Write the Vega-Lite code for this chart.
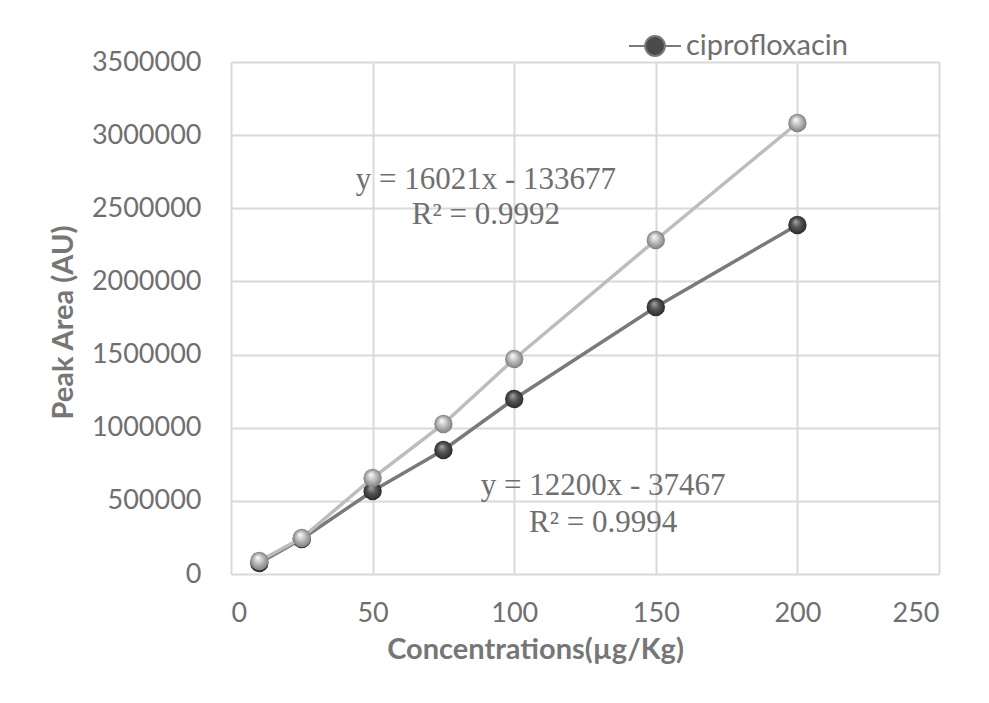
{
  "$schema": "https://vega.github.io/schema/vega-lite/v6.json",
  "width": 708,
  "height": 512,
  "autosize": {"type": "none"},
  "padding": {"left": 231, "top": 62, "right": 50, "bottom": 129},
  "background": "white",
  "config": {
    "view": {"stroke": null},
    "axis": {
      "labelFont": "Lato",
      "labelFontSize": 27,
      "labelColor": "#6f6f6f",
      "titleFont": "Lato",
      "titleFontSize": 29,
      "titleFontWeight": "bold",
      "titleColor": "#767676",
      "gridColor": "#d9d9d9",
      "gridWidth": 2,
      "domain": false,
      "ticks": false
    }
  },
  "datasets": {
    "points": [
      {"conc": 10, "area": 88900, "series": "standard"},
      {"conc": 25, "area": 246100, "series": "standard"},
      {"conc": 50, "area": 656200, "series": "standard"},
      {"conc": 75, "area": 1025400, "series": "standard"},
      {"conc": 100, "area": 1469700, "series": "standard"},
      {"conc": 150, "area": 2283200, "series": "standard"},
      {"conc": 200, "area": 3083000, "series": "standard"},
      {"conc": 10, "area": 75200, "series": "ciprofloxacin"},
      {"conc": 25, "area": 239300, "series": "ciprofloxacin"},
      {"conc": 50, "area": 567400, "series": "ciprofloxacin"},
      {"conc": 75, "area": 847600, "series": "ciprofloxacin"},
      {"conc": 100, "area": 1196300, "series": "ciprofloxacin"},
      {"conc": 150, "area": 1825200, "series": "ciprofloxacin"},
      {"conc": 200, "area": 2385700, "series": "ciprofloxacin"}
    ],
    "notes": [
      {"conc": 90, "area": 2631800, "label": "y = 16021x - 133677"},
      {"conc": 90, "area": 2392600, "label": "R² = 0.9992"},
      {"conc": 131.4, "area": 540000, "label": "y = 12200x - 37467"},
      {"conc": 131.4, "area": 287100, "label": "R² = 0.9994"}
    ]
  },
  "encoding": {
    "x": {
      "field": "conc",
      "type": "quantitative",
      "scale": {"domain": [0, 250], "nice": false},
      "axis": {
        "values": [0, 50, 100, 150, 200, 250],
        "labelPadding": 26,
        "title": "Concentrations(µg/Kg)",
        "titleX": 304,
        "titleY": 84,
        "titleAlign": "center",
        "titleBaseline": "alphabetic"
      }
    },
    "y": {
      "field": "area",
      "type": "quantitative",
      "scale": {"domain": [0, 3500000], "nice": false},
      "axis": {
        "values": [0, 500000, 1000000, 1500000, 2000000, 2500000, 3000000, 3500000],
        "format": "d",
        "labelPadding": 30,
        "title": "Peak Area (AU)",
        "titleX": -168,
        "titleY": 260,
        "titleAngle": -90,
        "titleAlign": "center",
        "titleBaseline": "middle"
      }
    }
  },
  "layer": [
    {
      "data": {"name": "points"},
      "transform": [{"filter": "datum.series === 'ciprofloxacin'"}],
      "mark": {"type": "line", "strokeWidth": 3.5},
      "encoding": {
        "color": {
          "field": "series",
          "type": "nominal",
          "scale": {"domain": ["ciprofloxacin"], "range": ["#7a7a7a"]},
          "legend": {
            "title": null,
            "orient": "none",
            "legendX": 397,
            "legendY": -43,
            "padding": 0,
            "symbolType": "M-1,0L-0.38,0M0.38,0L1,0M-0.38,0A0.38,0.38,0,1,0,0.38,0A0.38,0.38,0,1,0,-0.38,0Z",
            "symbolSize": 2704,
            "symbolStrokeWidth": 2,
            "labelFont": "Lato",
            "labelFontSize": 29,
            "labelLimit": 400,
            "labelColor": "#6f6f6f",
            "labelOffset": 4,
            "encode": {
              "symbols": {
                "update": {
                  "fill": {"value": "#4a4a4a"},
                  "stroke": {"value": "#555555"},
                  "opacity": {"value": 1}
                }
              }
            }
          }
        }
      }
    },
    {
      "data": {"name": "points"},
      "transform": [{"filter": "datum.series === 'ciprofloxacin'"}],
      "mark": {
        "type": "circle",
        "size": 340,
        "opacity": 1,
        "fill": {
          "gradient": "radial",
          "x1": 0.4, "y1": 0.3, "r1": 0,
          "x2": 0.5, "y2": 0.5, "r2": 0.5,
          "stops": [
            {"offset": 0, "color": "#a8a8a8"},
            {"offset": 0.5, "color": "#555555"},
            {"offset": 1, "color": "#2b2b2b"}
          ]
        }
      }
    },
    {
      "data": {"name": "points"},
      "transform": [{"filter": "datum.series === 'standard'"}],
      "mark": {"type": "line", "color": "#bdbdbd", "strokeWidth": 3.5}
    },
    {
      "data": {"name": "points"},
      "transform": [{"filter": "datum.series === 'standard'"}],
      "mark": {
        "type": "circle",
        "size": 340,
        "opacity": 1,
        "fill": {
          "gradient": "radial",
          "x1": 0.4, "y1": 0.3, "r1": 0,
          "x2": 0.5, "y2": 0.5, "r2": 0.5,
          "stops": [
            {"offset": 0, "color": "#ffffff"},
            {"offset": 0.55, "color": "#b8b8b8"},
            {"offset": 1, "color": "#7f7f7f"}
          ]
        }
      }
    },
    {
      "data": {"name": "notes"},
      "mark": {
        "type": "text",
        "font": "Liberation Serif",
        "fontSize": 31,
        "color": "#6f6f6f",
        "align": "center",
        "baseline": "alphabetic"
      },
      "encoding": {"text": {"field": "label"}}
    }
  ]
}
